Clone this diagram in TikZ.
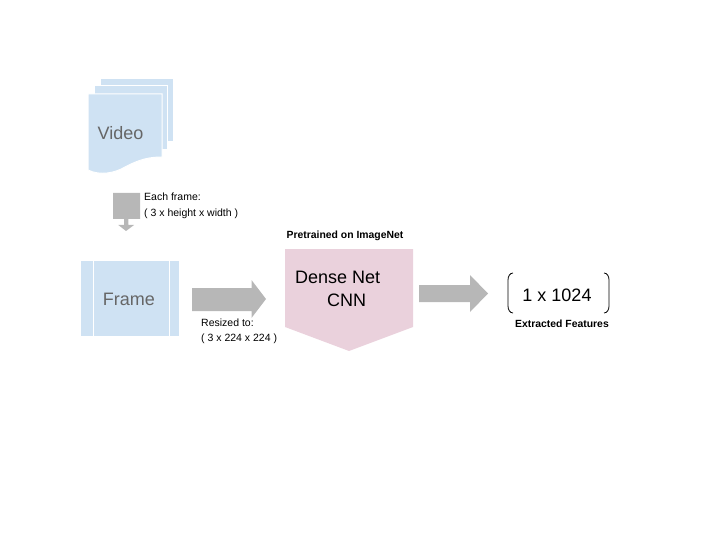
\documentclass[tikz,border=0pt]{standalone}
\usepackage{fontspec}
\setmainfont{Liberation Sans}
\usetikzlibrary{positioning}

\definecolor{sheetblue}{HTML}{CFE2F3}
\definecolor{cnnpink}{HTML}{EAD1DC}
\definecolor{arrowgray}{HTML}{B7B7B7}
\definecolor{labelgray}{HTML}{666666}

\tikzset{
  sheet/.style={fill=sheetblue, draw=white, line width=1},
  blockarrow/.style={fill=arrowgray, draw=none},
  bigtext/.style={font=\fontsize{18}{21}\selectfont, inner sep=0pt},
  smalltext/.style={font=\fontsize{10.5}{15}\selectfont, inner sep=0pt, anchor=base west, align=left},
  boldtext/.style={font=\fontsize{10.4}{12}\selectfont\bfseries, inner sep=0pt}
}

\begin{document}
\begin{tikzpicture}[x=1pt, y=-1pt]
  \useasboundingbox (0,0) rectangle (720,540);

  % stack of video sheets
  \fill[sheet] (100,79) rectangle (173,142);
  \fill[sheet] (94,86) rectangle (167,150);
  \filldraw[sheet] (88,94) -- (162,94) -- (162,157)
    .. controls (150,157) and (140,159) .. (125,167)
    .. controls (115,173) and (100,176) .. (88,170) -- cycle;
  \node[bigtext, text=labelgray] (video) at (120.5,133) {Video};

  % down arrow
  \fill[blockarrow] (113,193) -- (140,193) -- (140,219) -- (128.3,219) -- (128.3,225)
    -- (134,225) -- (126,231) -- (118.3,225) -- (124,225) -- (124,219) -- (113,219) -- cycle;
  \node[smalltext] (eachframe) at (144,216) {Each frame:\\( 3 x height x width )};

  % frame
  \fill[sheetblue] (81,261) rectangle (179,336);
  \draw[white, line width=1] (93.3,261) -- (93.3,336);
  \draw[white, line width=1] (169,261) -- (169,336);
  \node[bigtext, text=labelgray] (frame) at (129,299) {Frame};

  % arrow to cnn
  \fill[blockarrow] (192,288) -- (251.5,288) -- (251.5,280) -- (266,299)
    -- (251.5,318) -- (251.5,311) -- (192,311) -- cycle;
  \node[smalltext] (resized) at (201,341) {Resized to:\\( 3 x 224 x 224 )};

  % cnn block
  \fill[cnnpink] (285,249) -- (413,249) -- (413,327) -- (349,351) -- (285,327) -- cycle;
  \node[boldtext] (pretrained) at (345,236) {Pretrained on ImageNet};
  \node[bigtext, anchor=base west] (dense) at (295,283) {Dense Net};
  \node[bigtext, anchor=base west] (cnn) at (327,306) {CNN};

  % arrow to features
  \fill[blockarrow] (419,285) -- (470,285) -- (470,275) -- (488,293.5)
    -- (470,312) -- (470,302) -- (419,302) -- cycle;

  % feature vector
  \draw[line width=0.8] (513,273) to[out=180,in=90] (508,280) -- (508,306)
    to[out=-90,in=180] (513,313);
  \draw[line width=0.8] (604,273) to[out=0,in=90] (609,280) -- (609,306)
    to[out=-90,in=0] (604,313);
  \node[bigtext] (vector) at (557,295) {1 x 1024};
  \node[boldtext] (features) at (562,324) {Extracted Features};
\end{tikzpicture}
\end{document}
